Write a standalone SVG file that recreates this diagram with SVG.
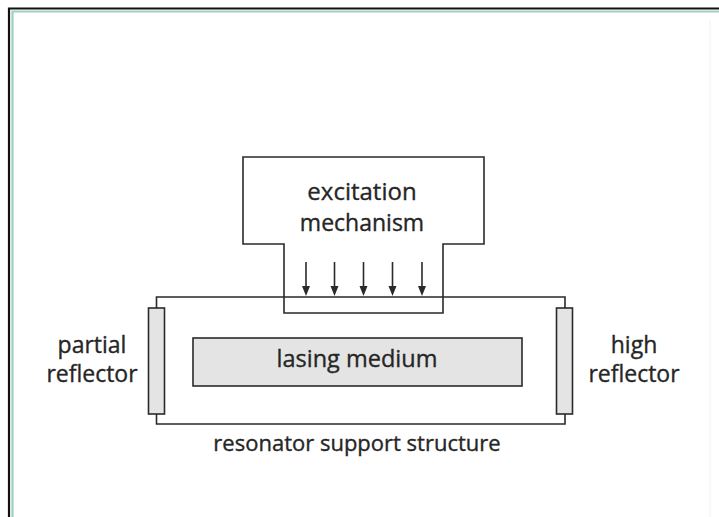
<svg xmlns="http://www.w3.org/2000/svg" width="719" height="517" viewBox="0 0 719 517">
<style>
.ln{fill:none;stroke:#2a2a2a;stroke-width:1.6}
.fl{fill:#e4e4e4;stroke:#2a2a2a;stroke-width:1.6}
.t{font-family:"Open Sans","Liberation Sans",sans-serif;font-size:23px;fill:#262626;stroke:#262626;stroke-width:0.35;text-anchor:middle}
</style>
<rect width="719" height="517" fill="#fff"/>
<g id="frame">
<path d="M9,517 V8.5 H719" fill="none" stroke="#111" stroke-width="2.2"/>
<path d="M12.5,517 V11.5 H719" fill="none" stroke="#9fcfbf" stroke-width="2.2"/>
<line x1="710" y1="20" x2="710" y2="517" stroke="#f2f2f2" stroke-width="1"/>
</g>
<g id="connectors">
<line class="ln" x1="306" y1="262" x2="306" y2="287"/>
<line class="ln" x1="334.5" y1="262" x2="334.5" y2="287"/>
<line class="ln" x1="363.5" y1="262" x2="363.5" y2="287"/>
<line class="ln" x1="392.5" y1="262" x2="392.5" y2="287"/>
<line class="ln" x1="422" y1="262" x2="422" y2="287"/>
<path d="M302,286 L306,296 L310,286 Z M330.5,286 L334.5,296 L338.5,286 Z M359.5,286 L363.5,296 L367.5,286 Z M388.5,286 L392.5,296 L396.5,286 Z M418,286 L422,296 L426,286 Z" fill="#2a2a2a"/>
</g>
<g id="resonator">
<path class="ln" d="M156.5,308 V297 H565 V308"/>
<path class="ln" d="M156.5,414 V424 H565 V414"/>
<text class="t" x="357" y="451" style="font-size:22px">resonator support structure</text>
</g>
<g id="excitation">
<path class="ln" d="M243,157 H484 V244 H443 V313 H284 V244 H243 Z"/>
<text class="t" x="362" y="200" style="font-size:24px">excitation</text>
<text class="t" x="362" y="231">mechanism</text>
</g>
<g id="lasing">
<rect class="fl" x="193" y="338" width="329" height="48"/>
<text class="t" x="357" y="367" style="font-size:23.5px">lasing medium</text>
</g>
<g id="partial">
<rect class="fl" x="148.5" y="308" width="16" height="106"/>
<text class="t" x="92" y="353">partial</text>
<text class="t" x="92" y="382">reflector</text>
</g>
<g id="high">
<rect class="fl" x="556.5" y="308" width="16" height="106"/>
<text class="t" x="634" y="353">high</text>
<text class="t" x="634" y="382">reflector</text>
</g>
</svg>
